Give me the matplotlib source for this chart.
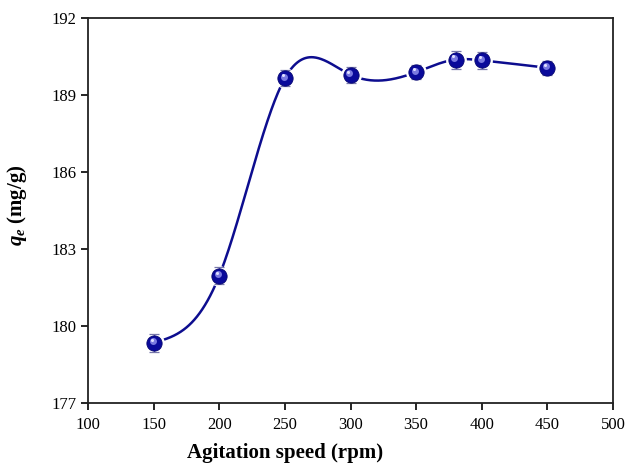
import numpy as np
import matplotlib
matplotlib.use("Agg")
import matplotlib.pyplot as plt

speed = [150, 200, 250, 300, 350, 380, 400, 450]
qe = [179.35, 181.96, 189.65, 189.79, 189.89, 190.38, 190.35, 190.06]
qe_err = [0.35, 0.33, 0.31, 0.32, 0.28, 0.35, 0.33, 0.28]
xticks = [100, 150, 200, 250, 300, 350, 400, 450, 500]
yticks = [177, 180, 183, 186, 189, 192]


def natural_spline(x, y, xs):
    x = np.asarray(x, float)
    y = np.asarray(y, float)
    n = len(x)
    h = np.diff(x)
    A = np.zeros((n, n))
    b = np.zeros(n)
    A[0, 0] = 1
    A[-1, -1] = 1
    for i in range(1, n - 1):
        A[i, i - 1] = h[i - 1]
        A[i, i] = 2 * (h[i - 1] + h[i])
        A[i, i + 1] = h[i]
        b[i] = 6 * ((y[i + 1] - y[i]) / h[i] - (y[i] - y[i - 1]) / h[i - 1])
    M = np.linalg.solve(A, b)
    out = np.empty_like(xs)
    for k, t in enumerate(xs):
        i = min(max(np.searchsorted(x, t) - 1, 0), n - 2)
        dx1 = x[i + 1] - t
        dx0 = t - x[i]
        out[k] = (M[i] * dx1 ** 3 / (6 * h[i]) + M[i + 1] * dx0 ** 3 / (6 * h[i])
                  + (y[i] / h[i] - M[i] * h[i] / 6) * dx1
                  + (y[i + 1] / h[i] - M[i + 1] * h[i] / 6) * dx0)
    return out


plt.rcParams['font.family'] = ['Liberation Serif', 'DejaVu Serif']
plt.rcParams['mathtext.fontset'] = 'custom'
plt.rcParams['mathtext.it'] = 'Liberation Serif:italic:bold'
plt.rcParams['mathtext.rm'] = 'Liberation Serif:bold'
plt.rcParams['mathtext.bf'] = 'Liberation Serif:bold'

fig = plt.figure(figsize=(6.25, 4.65), dpi=100)
ax = fig.add_axes([0.1408, 0.1333, 0.84, 0.828])

xs = np.linspace(speed[0], speed[-1], 600)
ys = natural_spline(speed, qe, xs)
navy = '#0d0d8f'
ax.plot(xs, ys, color=navy, lw=1.8, zorder=2)
ax.plot(speed, qe, 'o', ms=12, mfc='white', mec='white', mew=3, zorder=3)
ax.errorbar(speed, qe, yerr=qe_err, fmt='none', ecolor='#7777aa', elinewidth=0.9,
            capsize=3.5, capthick=0.9, zorder=4)
ax.plot(speed, qe, 'o', ms=11, mfc='#0a0a9a', mec='#050570', mew=0.6, zorder=5)
ax.plot(np.array(speed) - 0.8, np.array(qe) + 0.06, 'o', ms=5, mfc='#7a7ae0',
        mec='none', zorder=6)
ax.plot(np.array(speed) - 1.6, np.array(qe) + 0.12, 'o', ms=2.2, mfc='#e0e0ff',
        mec='none', zorder=7)

ax.set_xlim(100, 500)
ax.set_ylim(177, 192)
ax.set_xticks(xticks)
ax.set_yticks(yticks)
ax.tick_params(axis='both', direction='out', length=5, width=1.2, labelsize=12,
               top=False, right=False)
ax.tick_params(axis='x', pad=5)
for s in ax.spines.values():
    s.set_linewidth(1.3)
    s.set_color('#222222')

fig.text(285 / 625, 1 - 453 / 465, 'Agitation speed (rpm)', fontsize=15,
         fontweight='bold', ha='center', va='center')
fig.text(17 / 625, 1 - 205 / 465, r'$\mathit{q_e}$ (mg/g)', fontsize=15,
         fontweight='bold', ha='center', va='center', rotation=90)

fig.savefig('out.png', dpi=100)
